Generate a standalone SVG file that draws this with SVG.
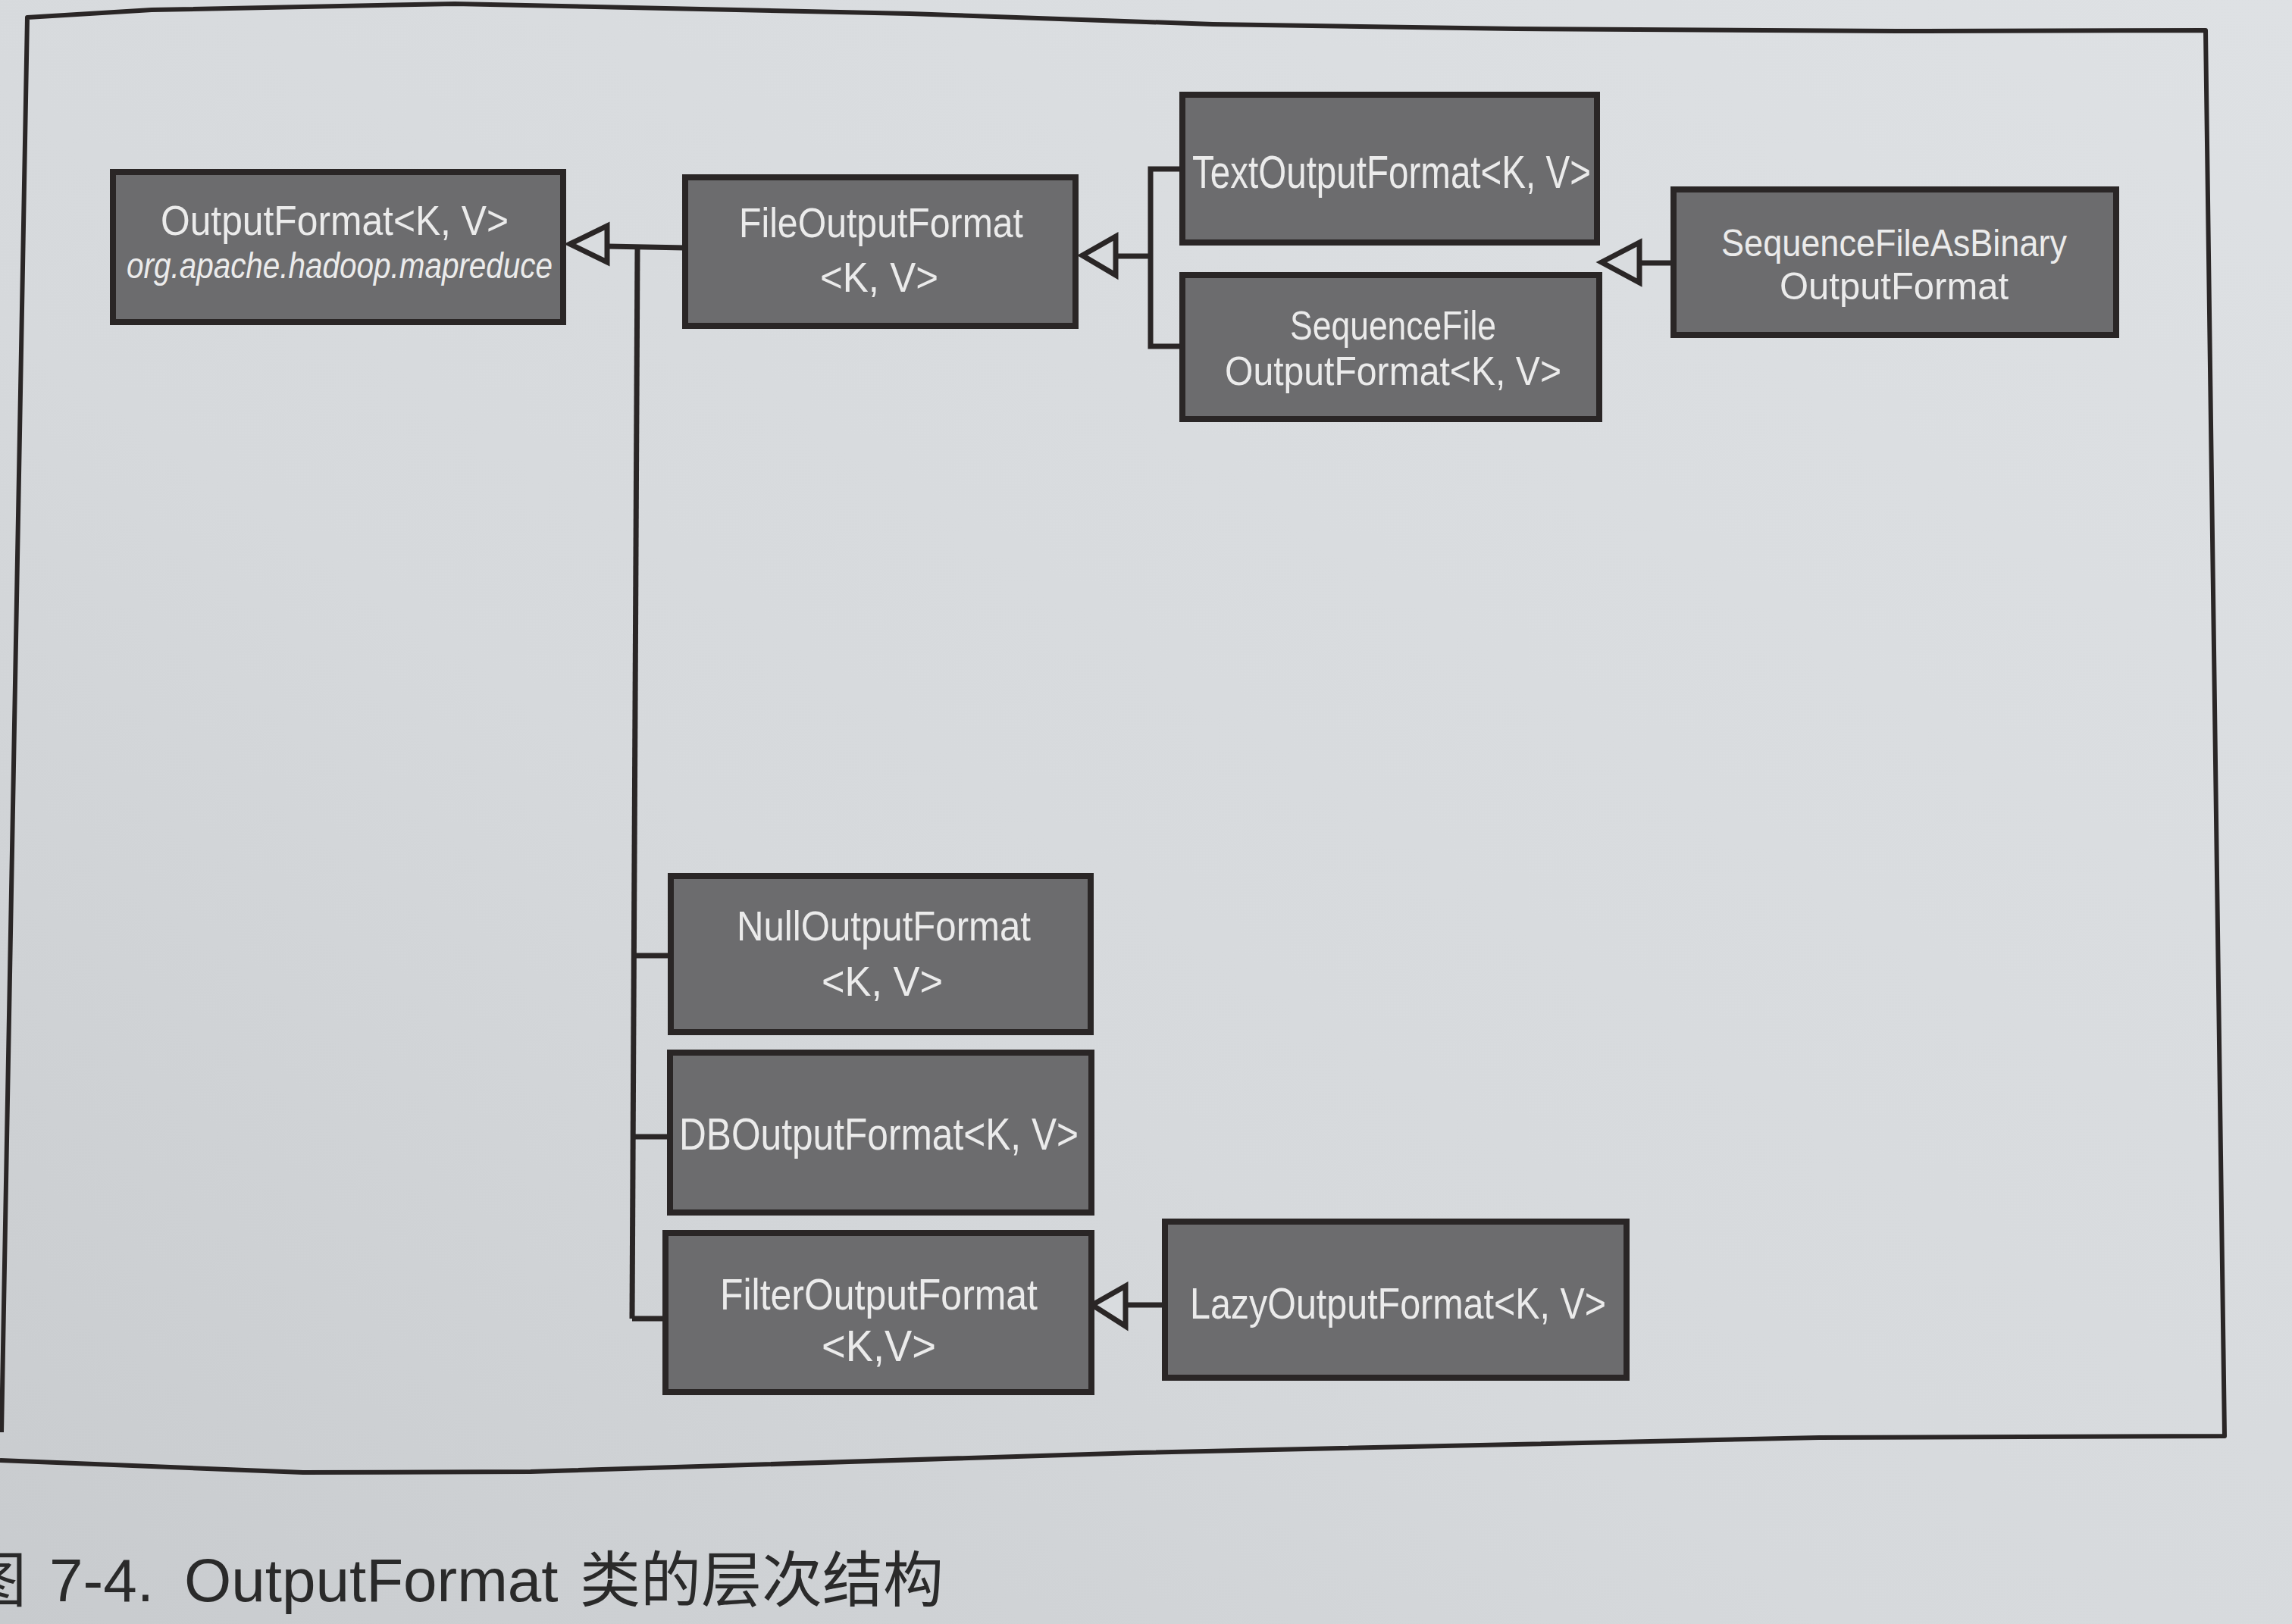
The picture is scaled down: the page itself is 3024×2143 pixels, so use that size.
<svg xmlns="http://www.w3.org/2000/svg" width="3024" height="2143" viewBox="0 0 3024 2143">
<defs>
<linearGradient id="paper" x1="1" y1="0" x2="0" y2="1">
<stop offset="0" stop-color="#dee1e4"/>
<stop offset="0.6" stop-color="#d6d9dc"/>
<stop offset="1" stop-color="#c8cbce"/>
</linearGradient>
<style>
.box{fill:#6c6c6e;stroke:#2a2626;stroke-width:8}
.lbl{font-family:"Liberation Sans",Arial,sans-serif;fill:#ebebeb}
.it{font-style:italic}
.conn{fill:none;stroke:#2a2626;stroke-width:7;stroke-linejoin:miter}
.head{fill:#d9dcdf;stroke:#2a2626;stroke-width:7;stroke-linejoin:miter}
.frame{fill:none;stroke:#2a2626;stroke-width:6;stroke-linejoin:round}
.cap{font-family:"Liberation Sans","Noto Sans CJK SC",sans-serif;fill:#2a2a2a;font-size:80px}
</style>
</defs>
<rect x="0" y="0" width="3024" height="2143" fill="url(#paper)"/>
<g id="frame">
<polyline class="frame" points="2,1890 36,23 200,13 600,5 1200,18 1600,32 2000,38 2500,41 2910,40 2935,1895 2400,1897 1500,1917 700,1942 400,1943 0,1927"/>
</g>
<g id="connectors">
<line class="conn" x1="801" y1="325" x2="904" y2="327"/>
<polyline class="conn" points="841,327 834,1740"/>
<line class="conn" x1="838" y1="1261" x2="885" y2="1261"/>
<line class="conn" x1="836" y1="1500" x2="884" y2="1500"/>
<line class="conn" x1="834" y1="1740" x2="878" y2="1740"/>
<polygon class="head" points="752,322 801,298 801,346"/>
<polyline class="conn" points="1560,223 1518,223 1518,457 1560,457"/>
<line class="conn" x1="1472" y1="338" x2="1518" y2="338"/>
<polygon class="head" points="1428,337 1472,312 1472,363"/>
<line class="conn" x1="2163" y1="347" x2="2208" y2="347"/>
<polygon class="head" points="2113,346 2163,320 2163,373"/>
<line class="conn" x1="1485" y1="1722" x2="1537" y2="1722"/>
<polygon class="head" points="1441,1722 1485,1697 1485,1750"/>
</g>
<g id="OutputFormat">
<rect class="box" x="149" y="227" width="594" height="198"/>
<text class="lbl" x="212" y="310" font-size="56" textLength="459" lengthAdjust="spacingAndGlyphs">OutputFormat&lt;K, V&gt;</text>
<text class="lbl it" x="167" y="367" font-size="48" textLength="562" lengthAdjust="spacingAndGlyphs">org.apache.hadoop.mapreduce</text>
</g>
<g id="FileOutputFormat">
<rect class="box" x="904" y="234" width="515" height="196"/>
<text class="lbl" x="975" y="313" font-size="56" textLength="375" lengthAdjust="spacingAndGlyphs">FileOutputFormat</text>
<text class="lbl" x="1082" y="385" font-size="56" textLength="156" lengthAdjust="spacingAndGlyphs">&lt;K, V&gt;</text>
</g>
<g id="TextOutputFormat">
<rect class="box" x="1560" y="125" width="547" height="195"/>
<text class="lbl" x="1573" y="248" font-size="62" textLength="526" lengthAdjust="spacingAndGlyphs">TextOutputFormat&lt;K, V&gt;</text>
</g>
<g id="SequenceFileOutputFormat">
<rect class="box" x="1560" y="363" width="550" height="190"/>
<text class="lbl" x="1702" y="448" font-size="53" textLength="272" lengthAdjust="spacingAndGlyphs">SequenceFile</text>
<text class="lbl" x="1616" y="508" font-size="53" textLength="444" lengthAdjust="spacingAndGlyphs">OutputFormat&lt;K, V&gt;</text>
</g>
<g id="SequenceFileAsBinaryOutputFormat">
<rect class="box" x="2208" y="250" width="584" height="192"/>
<text class="lbl" x="2271" y="338" font-size="50" textLength="456" lengthAdjust="spacingAndGlyphs">SequenceFileAsBinary</text>
<text class="lbl" x="2348" y="395" font-size="50" textLength="302" lengthAdjust="spacingAndGlyphs">OutputFormat</text>
</g>
<g id="NullOutputFormat">
<rect class="box" x="885" y="1156" width="554" height="206"/>
<text class="lbl" x="972" y="1241" font-size="56" textLength="388" lengthAdjust="spacingAndGlyphs">NullOutputFormat</text>
<text class="lbl" x="1084" y="1314" font-size="56" textLength="160" lengthAdjust="spacingAndGlyphs">&lt;K, V&gt;</text>
</g>
<g id="DBOutputFormat">
<rect class="box" x="884" y="1389" width="556" height="211"/>
<text class="lbl" x="896" y="1517" font-size="60" textLength="527" lengthAdjust="spacingAndGlyphs">DBOutputFormat&lt;K, V&gt;</text>
</g>
<g id="FilterOutputFormat">
<rect class="box" x="878" y="1627" width="562" height="210"/>
<text class="lbl" x="950" y="1728" font-size="58" textLength="419" lengthAdjust="spacingAndGlyphs">FilterOutputFormat</text>
<text class="lbl" x="1084" y="1796" font-size="58" textLength="151" lengthAdjust="spacingAndGlyphs">&lt;K,V&gt;</text>
</g>
<g id="LazyOutputFormat">
<rect class="box" x="1537" y="1612" width="609" height="206"/>
<text class="lbl" x="1570" y="1740" font-size="58" textLength="549" lengthAdjust="spacingAndGlyphs">LazyOutputFormat&lt;K, V&gt;</text>
</g>
<g id="caption">
<text class="cap" y="2113"><tspan x="-45">图</tspan><tspan x="65">7-4.</tspan><tspan x="243">OutputFormat</tspan><tspan x="765">类的层次结构</tspan></text>
</g>
</svg>
